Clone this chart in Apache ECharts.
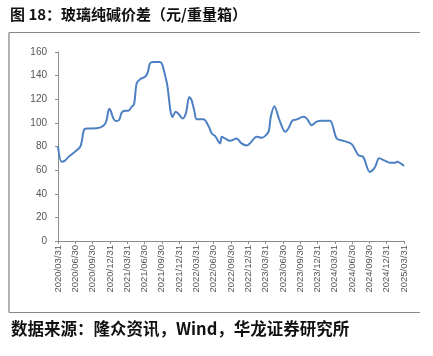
<!DOCTYPE html>
<html><head><meta charset="utf-8">
<script src="https://cdn.jsdelivr.net/npm/echarts@6/dist/echarts.min.js"></script>
<style>html,body{margin:0;padding:0;background:#fff}#c{width:433px;height:356px}</style>
</head><body><div id="c"></div>
<script>
const titleText = '图 18：玻璃纯碱价差（元/重量箱）';
const sourceText = '数据来源：隆众资讯，Wind，华龙证券研究所';
const tickLabels = ['2020/03/31','2020/06/30','2020/09/30','2020/12/31','2021/03/31','2021/06/30','2021/09/30','2021/12/31','2022/03/31','2022/06/30','2022/09/30','2022/12/31','2023/03/31','2023/06/30','2023/09/30','2023/12/31','2024/03/31','2024/06/30','2024/09/30','2024/12/31','2025/03/31'];
const dates = ['2020-03-31','2020-04-19','2020-05-07','2020-05-24','2020-06-20','2020-07-25','2020-08-03','2020-08-15','2020-08-29','2020-09-25','2020-11-08','2020-12-04','2020-12-13','2020-12-27','2021-01-05','2021-01-17','2021-01-31','2021-02-17','2021-03-02','2021-03-20','2021-04-06','2021-04-24','2021-05-06','2021-05-20','2021-06-07','2021-07-03','2021-07-17','2021-07-29','2021-08-16','2021-09-20','2021-10-02','2021-10-17','2021-10-29','2021-11-08','2021-11-16','2021-11-26','2021-12-12','2021-12-26','2022-01-18','2022-02-04','2022-02-22','2022-03-06','2022-03-20','2022-04-02','2022-05-07','2022-06-02','2022-06-20','2022-07-07','2022-08-03','2022-08-12','2022-08-29','2022-09-25','2022-10-30','2022-11-25','2022-12-22','2023-01-08','2023-02-13','2023-03-11','2023-04-15','2023-04-27','2023-05-16','2023-06-12','2023-07-12','2023-07-29','2023-08-19','2023-09-12','2023-10-16','2023-11-03','2023-11-30','2023-12-26','2024-01-22','2024-03-05','2024-04-10','2024-05-15','2024-06-28','2024-08-02','2024-08-28','2024-10-02','2024-10-29','2024-11-21','2024-12-21','2025-01-16','2025-02-11','2025-02-23','2025-03-31'];
const values = [80,67,68,71,74.5,79.5,84,94,95.3,95.3,96,98.7,102,112,110,104,101.5,102.4,108.6,110.3,110.3,113.7,115.7,133.5,137,139,142.5,150.4,151.6,151.6,149.6,140.5,132,119.3,109.4,105,109.4,108,103.8,108,122,119.3,110.3,103,103,97.5,91,89,82.6,88.2,86.8,84.8,86.8,82.6,80.9,82.6,88.2,87.4,92.5,105,114,102.4,92.5,95.3,101.8,103,105.2,103.8,98,101,101.8,101.8,86.8,84.8,82,72.7,71.2,58.5,62.3,70,68,66.2,66.2,67,63.4];

const tickTimes = tickLabels.map(s => Date.parse(s.replace(/\//g,'-')));
function toQ(d){
  const t = Date.parse(d);
  for (let i = 0; i < tickTimes.length - 1; i++) {
    if (t <= tickTimes[i+1]) return i + (t - tickTimes[i]) / (tickTimes[i+1] - tickTimes[i]);
  }
  return tickTimes.length - 1;
}
const seriesData = dates.map((d, i) => [toQ(d), values[i]]);

const chart = echarts.init(document.getElementById('c'), null, {renderer:'canvas'});
const axisCol = '#8c8c8c';
chart.setOption({
  animation: false,
  grid: {left: 58, right: 29, top: 52, bottom: 115},
  xAxis: {
    type: 'value', min: 0, max: 20, interval: 1,
    axisLine: {show: true, lineStyle: {color: axisCol, width: 1}},
    axisTick: {show: true, length: 3, lineStyle: {color: axisCol}},
    splitLine: {show: false},
    axisLabel: {rotate: 90, fontSize: 9.5, color: '#555', fontFamily: 'Liberation Sans, Arial', margin: 4,
      formatter: v => tickLabels[Math.round(v)] || ''}
  },
  yAxis: {
    type: 'value', min: 0, max: 160, interval: 20,
    axisLine: {show: true, lineStyle: {color: axisCol, width: 1}},
    axisTick: {show: true, length: 3, lineStyle: {color: axisCol}},
    splitLine: {show: false},
    axisLabel: {fontSize: 10, color: '#555', fontFamily: 'Liberation Sans, Arial', margin: 11}
  },
  series: [{
    type: 'line', data: seriesData, showSymbol: false, smooth: 0.3,
    lineStyle: {color: '#4d80c2', width: 2}
  }],
  graphic: [
    {type: 'text', left: 10, top: 7, style: {text: titleText, font: 'bold 15px "Noto Sans CJK SC"', fill: '#111'}},
    {type: 'line', shape: {x1: 9, y1: 32.5, x2: 420, y2: 32.5}, style: {stroke: '#888', lineWidth: 1}},
    {type: 'line', shape: {x1: 9, y1: 32.5, x2: 9, y2: 312.5}, style: {stroke: '#999', lineWidth: 1.5}},
    {type: 'line', shape: {x1: 9, y1: 312.5, x2: 420, y2: 312.5}, style: {stroke: '#888', lineWidth: 1}},
    {type: 'text', left: 11, top: 320, style: {text: sourceText, font: 'bold 16.5px "Noto Sans CJK SC"', fill: '#111'}}
  ]
});
</script></body></html>
